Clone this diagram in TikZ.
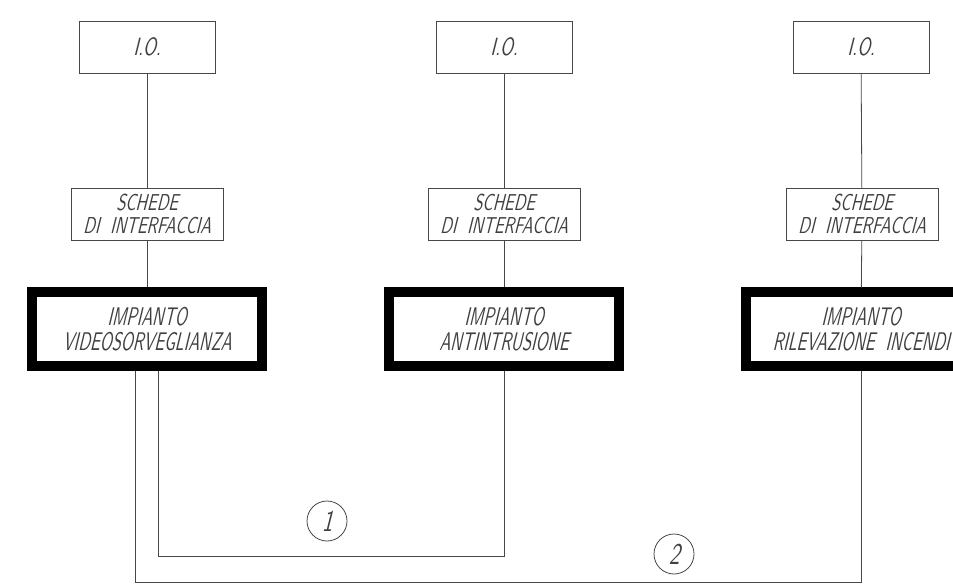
\documentclass[tikz,border=0pt]{standalone}
\usepackage{fontspec}
\newfontfamily\cadfont[FakeStretch=0.7,FakeSlant=0.1]{lmsans10-oblique.otf}
\newfontfamily\cadnarrow[FakeStretch=0.64,FakeSlant=0.1]{lmsans10-oblique.otf}
\begin{document}
\begin{tikzpicture}[x=1pt,y=-1pt,
  wire/.style={draw=black!72, line width=0.8pt},
  thinbox/.style={rectangle, draw=black!72, line width=0.8pt, inner sep=0pt, align=center, text=black!75},
  iobox/.style={thinbox, minimum width=136pt, minimum height=52pt, font=\cadfont\fontsize{25}{26}\selectfont},
  schbox/.style={thinbox, minimum width=152pt, minimum height=52pt, font=\cadfont\fontsize{23}{23.5}\selectfont},
  impbox/.style={rectangle, draw=black, line width=10pt, inner sep=0pt, align=center, text=black!75,
    minimum width=230pt, minimum height=73.5pt, font=\cadnarrow\fontsize{25.5}{25.5}\selectfont},
  numcirc/.style={circle, draw=black!72, line width=0.8pt, inner sep=0pt, minimum size=40pt,
    text=black!75, font=\cadfont\fontsize{30}{30}\selectfont}]
\clip (0,0) rectangle (953,585);
\fill[white] (0,0) rectangle (953,585);

\node[iobox] (io1) at (147,47) {I.O.};
\node[iobox] (io2) at (504,47) {I.O.};
\node[iobox] (io3) at (861,47) {I.O.};

\node[schbox] (sch1) at (147,214) {SCHEDE\\DI\ \ INTERFACCIA};
\node[schbox] (sch2) at (504,214) {SCHEDE\\DI\ \ INTERFACCIA};
\node[schbox] (sch3) at (862,214) {SCHEDE\\DI\ \ INTERFACCIA};

\node[impbox] (imp1) at (147,329.25) {IMPIANTO\\VIDEOSORVEGLIANZA};
\node[impbox] (imp2) at (504,329.25) {IMPIANTO\\ANTINTRUSIONE};
\node[impbox] (imp3) at (861,329.25) {IMPIANTO\\RILEVAZIONE\ \ INCENDI};

\draw[wire] (io1) -- (sch1);
\draw[wire] (sch1) -- (imp1);
\draw[wire] (io2) -- (sch2);
\draw[wire] (sch2) -- (imp2);
\draw[wire] (io3) -- (sch3);
\draw[wire] (sch3) -- (imp3);

\coordinate (b1) at (135,582);
\coordinate (b2) at (158,556);
\draw[wire] (imp1.south -| b2) -- (b2) -| (imp2.south);
\draw[wire] (imp1.south -| b1) -- (b1) -| (imp3.south);

\node[numcirc] (n1) at (327,521) {1};
\node[numcirc] (n2) at (674,554) {2};
\end{tikzpicture}
\end{document}
